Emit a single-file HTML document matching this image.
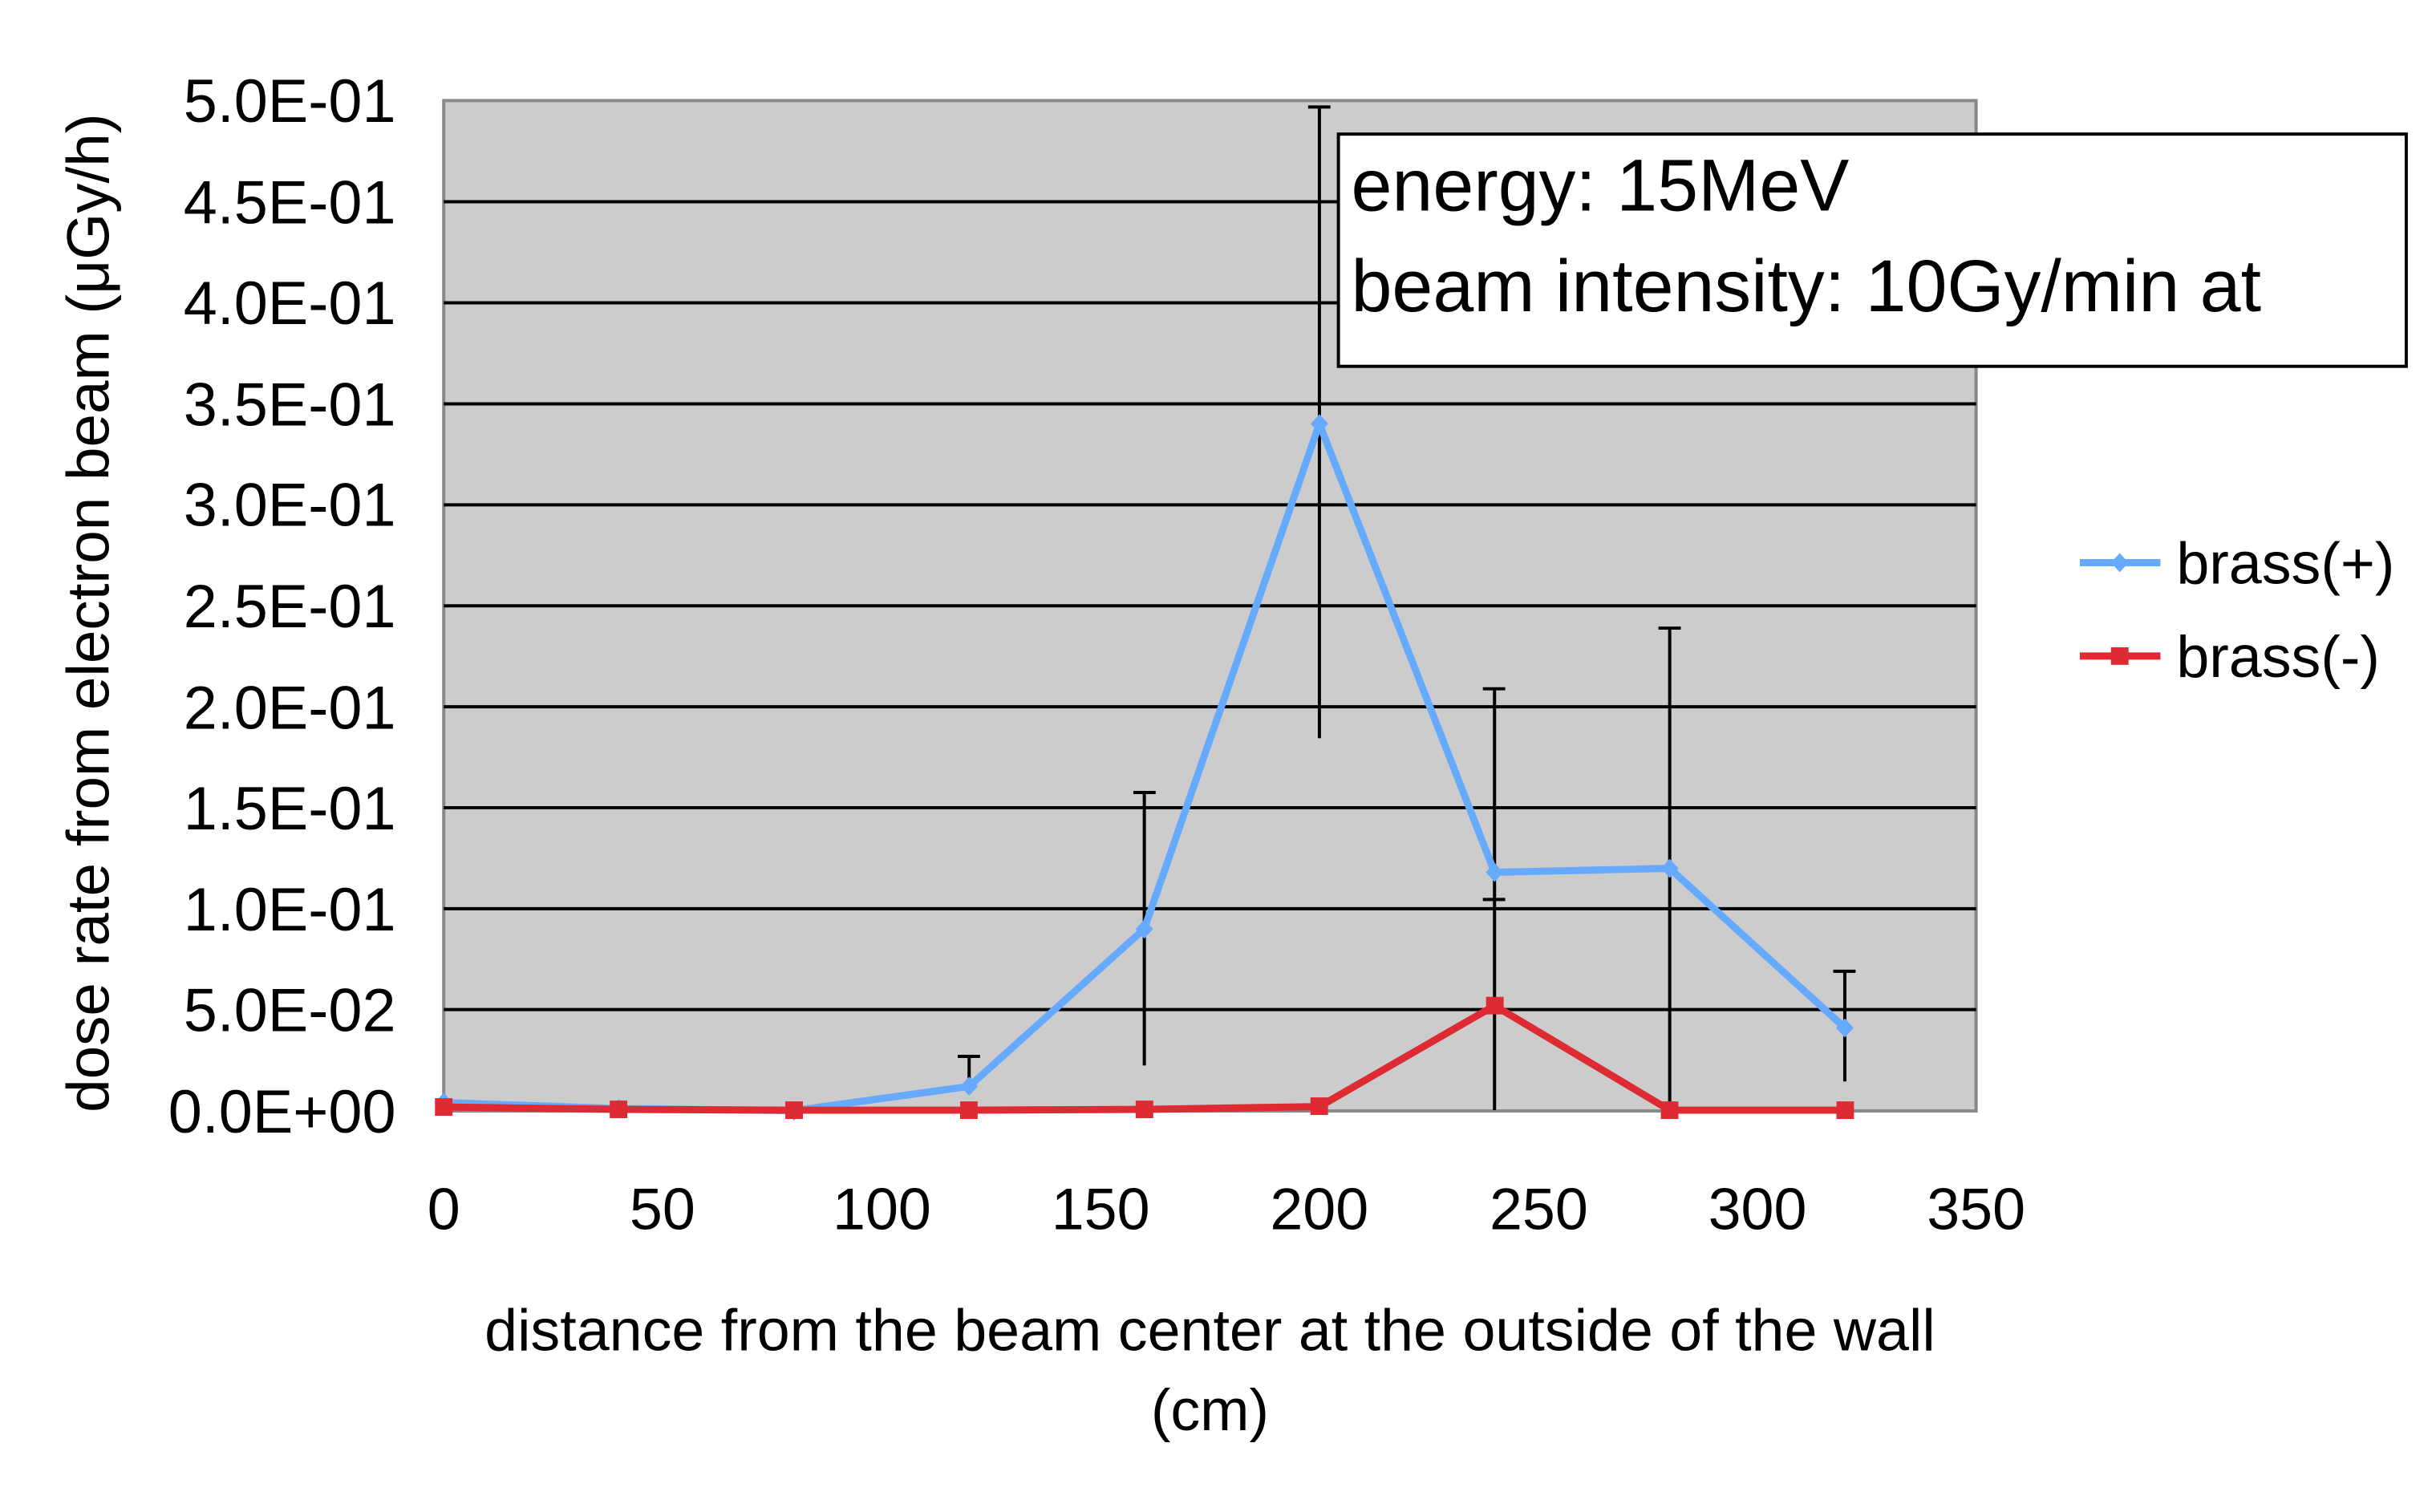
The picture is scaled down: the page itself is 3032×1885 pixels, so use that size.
<!DOCTYPE html>
<html><head><meta charset="utf-8"><style>
html,body{margin:0;padding:0;background:#fff;}
svg{display:block;font-family:"Liberation Sans","Noto Sans CJK JP",sans-serif;}
</style></head><body>
<svg width="3032" height="1885" viewBox="0 0 3032 1885" xmlns="http://www.w3.org/2000/svg">
<g transform="scale(0.995)">
<rect x="556" y="126" width="1920" height="1266" fill="#cccccc" stroke="#888" stroke-width="4"/>
<g stroke="#000" stroke-width="4">
<line x1="556" x2="2476" y1="252.8" y2="252.8"/>
<line x1="556" x2="2476" y1="379.4" y2="379.4"/>
<line x1="556" x2="2476" y1="506" y2="506"/>
<line x1="556" x2="2476" y1="632.5" y2="632.5"/>
<line x1="556" x2="2476" y1="759" y2="759"/>
<line x1="556" x2="2476" y1="885.6" y2="885.6"/>
<line x1="556" x2="2476" y1="1012" y2="1012"/>
<line x1="556" x2="2476" y1="1138.6" y2="1138.6"/>
<line x1="556" x2="2476" y1="1265" y2="1265"/>
</g>
<g font-size="76" text-anchor="end" fill="#000">
<text x="496" y="153">5.0E-01</text>
<text x="496" y="280">4.5E-01</text>
<text x="496" y="406">4.0E-01</text>
<text x="496" y="533">3.5E-01</text>
<text x="496" y="659">3.0E-01</text>
<text x="496" y="786">2.5E-01</text>
<text x="496" y="913">2.0E-01</text>
<text x="496" y="1039">1.5E-01</text>
<text x="496" y="1166">1.0E-01</text>
<text x="496" y="1292">5.0E-02</text>
<text x="496" y="1419">0.0E+00</text>
</g>
<g font-size="74" text-anchor="middle" fill="#000">
<text x="556" y="1540">0</text>
<text x="830" y="1540">50</text>
<text x="1105" y="1540">100</text>
<text x="1379" y="1540">150</text>
<text x="1653" y="1540">200</text>
<text x="1928" y="1540">250</text>
<text x="2202" y="1540">300</text>
<text x="2476" y="1540">350</text>
<text x="1516" y="1692">distance from the beam center at the outside of the wall</text>
<text x="1516" y="1792">(cm)</text>
</g>
<text transform="translate(136,768) rotate(-90)" font-size="75" text-anchor="middle">dose rate from electron beam (μGy/h)</text>
<g stroke="#000" stroke-width="4">
<line x1="1214.3" x2="1214.3" y1="1323.6" y2="1370"/><line x1="1200" x2="1228" y1="1323.6" y2="1323.6"/>
<line x1="1433.8" x2="1433.8" y1="993" y2="1335"/><line x1="1420" x2="1448" y1="993" y2="993"/>
<line x1="1653.2" x2="1653.2" y1="134" y2="925"/><line x1="1639" x2="1667" y1="134" y2="134"/>
<line x1="1872.6" x2="1872.6" y1="863" y2="1391"/><line x1="1858" x2="1886" y1="863" y2="863"/><line x1="1858" x2="1886" y1="1127" y2="1127"/>
<line x1="2092.1" x2="2092.1" y1="787" y2="1391"/><line x1="2078" x2="2106" y1="787" y2="787"/>
<line x1="2311.5" x2="2311.5" y1="1217" y2="1355"/><line x1="2297" x2="2325" y1="1217" y2="1217"/>
</g>
<polyline fill="none" stroke="#66aaff" stroke-width="9" stroke-linejoin="round" points="556,1381.5 775.4,1389 994.9,1391.6 1214.3,1361.2 1433.8,1163.8 1653.2,531 1872.6,1093 2092.1,1088 2311.5,1287.8"/>
<g fill="#66aaff">
<path d="M556,1369 l11,12 -11,12 -11,-12z"/><path d="M775.4,1377 l11,12 -11,12 -11,-12z"/><path d="M994.9,1380 l11,12 -11,12 -11,-12z"/><path d="M1214.3,1349 l11,12 -11,12 -11,-12z"/><path d="M1433.8,1152 l11,12 -11,12 -11,-12z"/><path d="M1653.2,519 l11,12 -11,12 -11,-12z"/><path d="M1872.6,1081 l11,12 -11,12 -11,-12z"/><path d="M2092.1,1076 l11,12 -11,12 -11,-12z"/><path d="M2311.5,1276 l11,12 -11,12 -11,-12z"/>
</g>
<polyline fill="none" stroke="#dd2a33" stroke-width="9" stroke-linejoin="round" points="556,1387 775.4,1390 994.9,1391 1214.3,1391 1433.8,1390 1653.2,1386.5 1872.6,1260 2092.1,1391 2311.5,1391"/>
<g fill="#dd2a33">
<rect x="545" y="1376" width="22" height="22"/><rect x="764" y="1379" width="22" height="22"/><rect x="984" y="1380" width="22" height="22"/><rect x="1203" y="1380" width="22" height="22"/><rect x="1423" y="1379" width="22" height="22"/><rect x="1642" y="1375" width="22" height="22"/><rect x="1862" y="1249" width="22" height="22"/><rect x="2081" y="1380" width="22" height="22"/><rect x="2301" y="1380" width="22" height="22"/>
</g>
<rect x="1677" y="168" width="1338" height="291" fill="#fff" stroke="#000" stroke-width="4"/>
<text x="1693" y="264" font-size="92">energy: 15MeV</text>
<text x="1693" y="390" font-size="92">beam intensity: 10Gy/min at</text>
<line x1="2606" x2="2707" y1="705" y2="705" stroke="#66aaff" stroke-width="9"/>
<path d="M2656,693 l11,12 -11,12 -11,-12z" fill="#66aaff"/>
<text x="2727" y="731" font-size="74">brass(+)</text>
<line x1="2606" x2="2707" y1="822" y2="822" stroke="#dd2a33" stroke-width="9"/>
<rect x="2645" y="811" width="22" height="22" fill="#dd2a33"/>
<text x="2727" y="848" font-size="74">brass(-)</text>
</g>
</svg>
</body></html>
